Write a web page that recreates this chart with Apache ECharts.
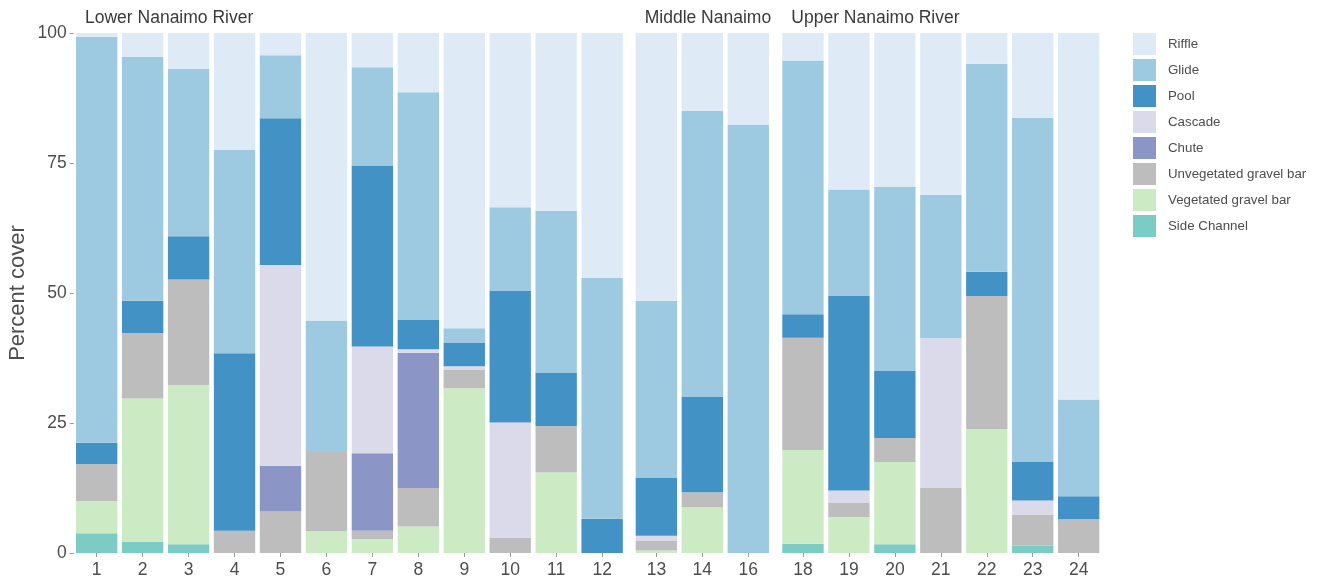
<!DOCTYPE html>
<html>
<head>
<meta charset="utf-8">
<script src="https://cdn.jsdelivr.net/npm/echarts@6/dist/echarts.min.js"></script>
<style>
  html, body { margin: 0; padding: 0; background: #ffffff; }
  #chart { width: 1335px; height: 582px; }
</style>
</head>
<body>
<div id="chart"></div>
<script>
// Sites sampled along the river, grouped by reach
const sites = ['1','2','3','4','5','6','7','8','9','10','11','12','13','14','16','18','19','20','21','22','23','24'];
const reachNames = ['Lower Nanaimo River', 'Middle Nanaimo', 'Upper Nanaimo River'];
const reachSites = [
  ['1','2','3','4','5','6','7','8','9','10','11','12'],
  ['13','14','16'],
  ['18','19','20','21','22','23','24']
];

// Percent cover of each habitat type per site (same order as sites)
const sideChannel = [3.8, 2.1, 1.7, 0, 0, 0, 0, 0, 0, 0, 0, 0, 0, 0, 0, 1.8, 0, 1.7, 0, 0, 1.4, 0];
const vegetatedBar = [6.2, 27.6, 30.6, 0, 0, 4.2, 2.7, 5.1, 31.7, 0, 15.5, 0, 0.5, 8.8, 0, 18.0, 6.9, 15.8, 0, 23.8, 0, 0];
const unvegetatedBar = [7.1, 12.6, 20.3, 4.3, 8.0, 15.2, 1.6, 7.4, 3.5, 3.0, 8.9, 0, 1.8, 2.9, 0, 21.6, 2.7, 4.6, 12.5, 25.6, 6.0, 6.5];
const chute = [0, 0, 0, 0, 8.8, 0, 14.9, 26.0, 0, 0, 0, 0, 0, 0, 0, 0, 0, 0, 0, 0, 0, 0];
const cascade = [0, 0, 0, 0, 38.6, 0, 20.5, 0.7, 0.7, 22.1, 0, 0, 1.0, 0, 0, 0, 2.4, 0, 28.8, 0, 2.7, 0];
const pool = [4.1, 6.2, 8.3, 34.1, 28.2, 0, 34.8, 5.7, 4.5, 25.4, 10.3, 6.6, 11.2, 18.3, 0, 4.5, 37.4, 12.9, 0, 4.7, 7.5, 4.4];
const glide = [78.1, 46.9, 32.2, 39.1, 12.1, 25.3, 18.9, 43.7, 2.8, 16.0, 31.1, 46.3, 34.0, 55.0, 82.4, 48.8, 20.5, 35.4, 27.6, 40.0, 66.1, 18.6];
const riffle = [0.7, 4.6, 6.9, 22.5, 4.3, 55.3, 6.6, 11.4, 56.8, 33.5, 34.2, 47.1, 51.5, 15.0, 17.6, 5.3, 30.1, 29.6, 31.1, 5.9, 16.3, 70.5];

const yTicks = [0, 25, 50, 75, 100];

// Stack order, bottom to top
const habitats = [
  { name: 'Side Channel', values: sideChannel, color: '#7bccc4' },
  { name: 'Vegetated gravel bar', values: vegetatedBar, color: '#ccebc5' },
  { name: 'Unvegetated gravel bar', values: unvegetatedBar, color: '#bdbdbd' },
  { name: 'Chute', values: chute, color: '#8c96c6' },
  { name: 'Cascade', values: cascade, color: '#dadaeb' },
  { name: 'Pool', values: pool, color: '#4292c6' },
  { name: 'Glide', values: glide, color: '#9ecae1' },
  { name: 'Riffle', values: riffle, color: '#deebf7' }
];
const legendOrder = ['Riffle','Glide','Pool','Cascade','Chute','Unvegetated gravel bar','Vegetated gravel bar','Side Channel'];

const slot = 45.95;
const plotTop = 33, plotH = 520;
const panelLefts = [73.7, 633.4, 780];
const textColor = '#4d4d4d';
const fontFamily = 'Liberation Sans, Arial, sans-serif';

const grids = reachSites.map((s, i) => ({
  left: panelLefts[i], top: plotTop, width: slot * s.length, height: plotH, containLabel: false
}));

const xAxes = reachSites.map((s, i) => ({
  type: 'category', gridIndex: i, data: s,
  axisLine: { show: false },
  axisTick: { show: true, alignWithLabel: true, length: 4, lineStyle: { color: '#9a9a9a' } },
  axisLabel: { color: textColor, fontSize: 17.5, margin: 8, fontFamily: fontFamily },
  splitLine: { show: false }
}));

const yAxes = reachSites.map((s, i) => ({
  type: 'value', gridIndex: i, min: yTicks[0], max: yTicks[yTicks.length - 1],
  interval: yTicks[1] - yTicks[0],
  axisLine: { show: false },
  axisTick: { show: i === 0, length: 4, lineStyle: { color: '#9a9a9a' } },
  axisLabel: { show: i === 0, color: textColor, fontSize: 17.5, margin: 7, fontFamily: fontFamily },
  splitLine: { show: false },
  name: i === 0 ? 'Percent cover' : '',
  nameLocation: 'middle', nameRotate: 90, nameGap: 45,
  nameTextStyle: { color: textColor, fontSize: 22, fontFamily: fontFamily }
}));

const series = [];
reachSites.forEach((s, gi) => {
  habitats.forEach(h => {
    series.push({
      name: h.name, type: 'bar', stack: 'reach' + gi,
      xAxisIndex: gi, yAxisIndex: gi,
      barCategoryGap: '10%',
      itemStyle: { color: h.color },
      emphasis: { disabled: true },
      data: s.map(site => h.values[sites.indexOf(site)])
    });
  });
});

const titles = reachNames.map((n, i) => ({
  text: n, left: panelLefts[i] + 11.3, top: 9, padding: 0,
  textStyle: { color: '#3a3a3a', fontSize: 17.5, fontWeight: 'normal', fontFamily: fontFamily }
}));

const chart = echarts.init(document.getElementById('chart'), null, { renderer: 'canvas' });
chart.setOption({
  backgroundColor: '#ffffff',
  animation: false,
  title: titles,
  grid: grids,
  xAxis: xAxes,
  yAxis: yAxes,
  legend: {
    data: legendOrder, orient: 'vertical', left: 1133, top: 33, padding: 0,
    icon: 'rect', itemWidth: 23, itemHeight: 22, itemGap: 4,
    textStyle: { color: textColor, fontSize: 13.3, padding: [5, 0, 0, 7], fontFamily: fontFamily },
    selectedMode: false
  },
  series: series
});
</script>
</body>
</html>
